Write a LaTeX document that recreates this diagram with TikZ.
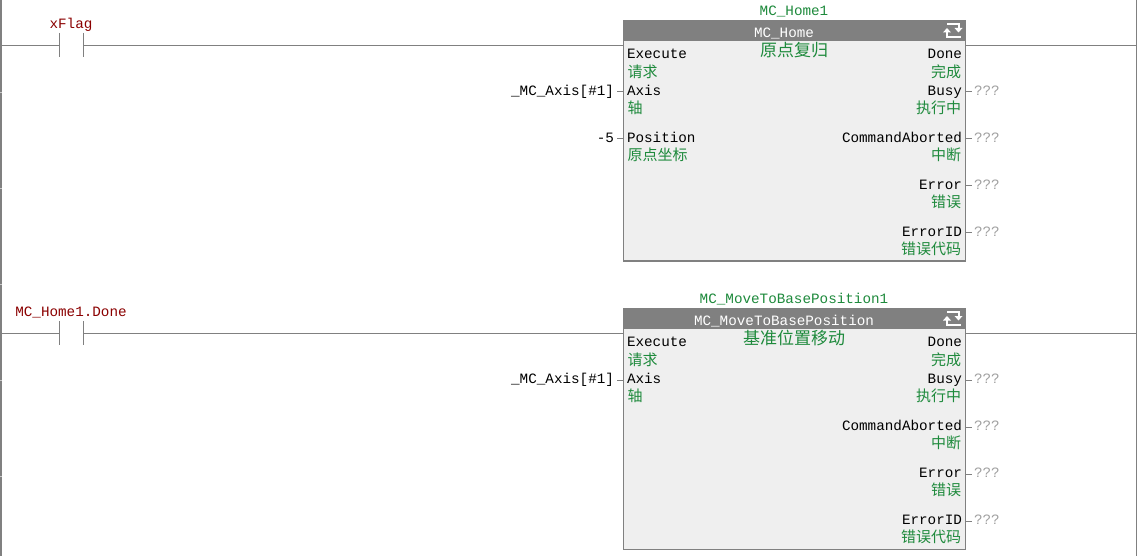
\documentclass[tikz,border=0pt]{standalone}
\usepackage{fontspec}
\setmainfont{Liberation Mono}
\newfontfamily\cjkf{Noto Sans CJK SC}
\definecolor{railgray}{HTML}{808080}
\definecolor{boxfill}{HTML}{EFEFEF}
\definecolor{gtext}{HTML}{1E8A3C}
\definecolor{rtext}{HTML}{8B0000}
\definecolor{qtext}{HTML}{A0A0A0}
\definecolor{notch}{HTML}{C8C8C8}
\tikzset{
  every node/.style={inner sep=0pt,outer sep=0pt,font=\fontsize{14.28}{15}\selectfont,text height=8.5pt,text depth=2pt},
  wire/.style={draw=railgray,line width=1pt},
  fb/.style={draw=railgray,fill=boxfill,line width=1pt,minimum width=342pt,minimum height=240.5pt,anchor=north west},
  fbhead/.style={fill=railgray,minimum width=343pt,minimum height=21pt,anchor=north west},
  pinl/.style={anchor=west,text=black},
  pinr/.style={anchor=east,text=black},
  cnl/.style={anchor=west,text=gtext,font=\cjkf\fontsize{15}{15}\selectfont},
  cnr/.style={anchor=east,text=gtext,font=\cjkf\fontsize{15}{15}\selectfont},
  invar/.style={anchor=east,inner xsep=3pt,text=black},
  outvar/.style={anchor=west,inner xsep=2pt,text=qtext},
  varname/.style={text=rtext},
  inst/.style={text=gtext},
}
\newcommand{\rung}[5]{%
 % #1 prefix, #2 y-offset, #3 contact label, #4 type, #5 chinese title
 \begin{scope}[shift={(0,#2)}]
  \coordinate (#1railL) at (2,45.5);
  \coordinate (#1railR) at (1136,45.5);
  \coordinate (#1cA) at (59.5,45.5);
  \coordinate (#1cB) at (83.5,45.5);
  \node[fb] (#1box) at (623.5,20.5) {};
  \node[fbhead] (#1head) at (623,20) {};
  \draw[wire] (#1railL) -- (#1cA);
  \draw[wire] (#1cB) -- (#1box.west |- #1cB);
  \draw[wire] (#1box.east |- #1cB) -- (#1railR);
  \draw[wire] (59.5,33) -- (59.5,57);
  \draw[wire] (83.5,33) -- (83.5,57);
  \node[varname] (#1lab) at (71,25.5) {#3};
  \node[inst] (#1inst) at (794,12.5) {#41};
  \node[text=white] (#1type) at (784,34) {#4};
  \node[text=gtext,font=\cjkf\fontsize{17}{17}\selectfont] (#1cn) at (794,53) {#5};
  % refresh icon
  \draw[white,line width=2pt] (947,31) -- (947,37) -- (961,37);
  \draw[white,line width=2pt] (958.5,29) -- (958.5,24) -- (947,24);
  \fill[white] (943,32.5) -- (951,32.5) -- (947,28) -- cycle;
  \fill[white] (954.5,28) -- (962.5,28) -- (958.5,32.5) -- cycle;
  % left pins
  \node[pinl] (#1pExec) at (627,55.5) {Execute};
  \node[cnl] (#1cExec) at (627.5,74) {请求};
  \node[pinl] (#1pAxis) at (627,92.5) {Axis};
  \node[cnl] (#1cAxis) at (627.5,110.5) {轴};
  \node[invar] (#1vAxis) at (617,92) {\_MC\_Axis[\#1]};
  \draw[wire] (#1vAxis.east) -- (#1box.west |- #1vAxis);
  % right pins
  \node[pinr] (#1pDone) at (962,55.5) {Done};
  \node[cnr] (#1cDone) at (961,74) {完成};
  \node[pinr] (#1pBusy) at (962,92.5) {Busy};
  \node[cnr] (#1cBusy) at (961,110.5) {执行中};
  \node[outvar] (#1qBusy) at (972,92) {???};
  \node[pinr] (#1pAbort) at (962,139.5) {CommandAborted};
  \node[cnr] (#1cAbort) at (961,157.5) {中断};
  \node[outvar] (#1qAbort) at (972,139) {???};
  \node[pinr] (#1pErr) at (962,186.5) {Error};
  \node[cnr] (#1cErr) at (961,204.5) {错误};
  \node[outvar] (#1qErr) at (972,186) {???};
  \node[pinr] (#1pId) at (962,233.5) {ErrorID};
  \node[cnr] (#1cId) at (961,251.5) {错误代码};
  \node[outvar] (#1qId) at (972,233) {???};
  \foreach \q in {Busy,Abort,Err,Id}{
    \draw[wire] (#1box.east |- #1q\q) -- (#1q\q.west);
  }
 \end{scope}}
\begin{document}
\begin{tikzpicture}[x=1pt,y=-1pt]
 \useasboundingbox (0,0) rectangle (1138,556);
 \fill[white] (0,0) rectangle (1138,556);
 \fill[railgray] (0,0) rectangle (2,556);
 \fill[railgray] (1136,0) rectangle (1137,556);
 \foreach \y in {92.5,188.5,284.5,380.5,476.5}{
   \draw[notch,line width=1pt] (0,\y) -- (2,\y);
 }
 \rung{a}{0}{xFlag}{MC\_Home}{原点复归}
 \rung{b}{288}{MC\_Home1.Done}{MC\_MoveToBasePosition}{基准位置移动}
 % rung-specific pin of the first block
 \node[pinl] (aPos) at (627,139.5) {Position};
 \node[cnl] (aPosC) at (627.5,157.5) {原点坐标};
 \node[invar] (aPosV) at (617,139) {-5};
 \draw[wire] (aPosV.east) -- (abox.west |- aPosV);
\end{tikzpicture}
\end{document}
